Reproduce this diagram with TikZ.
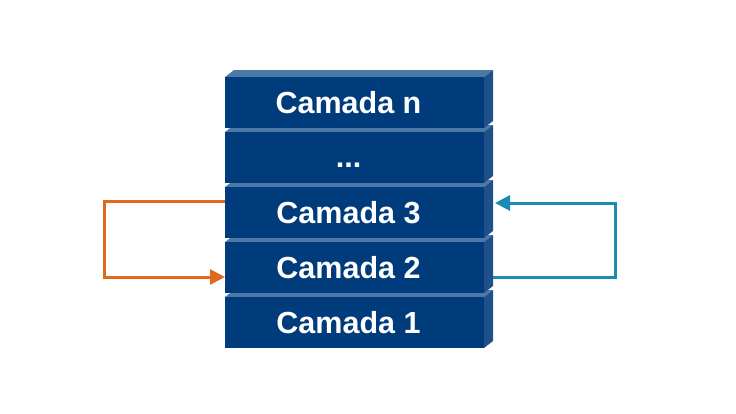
\documentclass[tikz,border=0pt]{standalone}
\usepackage{fontspec}
\setmainfont{Liberation Sans}
\usetikzlibrary{arrows.meta,positioning}
\definecolor{layerfront}{HTML}{003B7C}
\definecolor{layertop}{HTML}{4D79A8}
\definecolor{layerside}{HTML}{1F5089}
\definecolor{fwdorange}{HTML}{E06A1B}
\definecolor{backblue}{HTML}{1A8CB4}

\begin{document}
\begin{tikzpicture}[
      x=1pt, y=1pt,
      layer/.style={
        fill=layerfront, minimum width=259pt, minimum height=51pt,
        inner sep=0pt, outer sep=0pt
      },
      label/.style={
        text=white, inner sep=0pt, text height=21pt, text depth=0pt,
        font=\bfseries\fontsize{30.5}{34}\selectfont
      },
      topface/.style={fill=layertop},
      sideface/.style={fill=layerside},
      fwd/.style={-{Triangle[length=15pt,width=15pt]}, line width=3pt, draw=fwdorange},
      back/.style={-{Triangle[length=15pt,width=15pt]}, line width=3pt, draw=backblue},
      node distance=4pt
    ]
    \useasboundingbox (0,0) rectangle (736,-413);

    % front faces of the stack, top to bottom
    \node[layer] (camn) at (354.5,-102.5) {};
    \node[layer, below=of camn] (dots) {};
    \node[layer, below=of dots] (cam3) {};
    \node[layer, below=of cam3] (cam2) {};
    \node[layer, below=of cam2] (cam1) {};

    % depth faces, bottom first so the upper layer covers them
    \foreach \blk in {cam1,cam2,cam3,dots,camn} {
      \fill[topface] (\blk.north west) -- ++(9,7) -- ([shift={(9,7)}]\blk.north east) -- (\blk.north east) -- cycle;
      \fill[sideface] (\blk.north east) -- ++(9,7) -- ([shift={(9,7)}]\blk.south east) -- (\blk.south east) -- cycle;
      \fill[layerfront] (\blk.south west) rectangle (\blk.north east);
    }

    % layer names
    \node[label] (tcamn) at ([xshift=-6pt]camn) {Camada n};
    \node[label, text height=20pt] (tdots) at ([xshift=-6pt]dots) {...};
    \node[label] (tcam3) at ([xshift=-6pt]cam3) {Camada 3};
    \node[label] (tcam2) at ([xshift=-6pt]cam2) {Camada 2};
    \node[label] (tcam1) at ([xshift=-6pt]cam1) {Camada 1};

    \draw[fwd] ([yshift=11.5pt]cam3.west) -- ++(-121,0) |- ([yshift=-9.5pt]cam2.west);
    \draw[back] ([xshift=9pt,yshift=-10pt]cam2.east) -- ++(122,0) |- ([xshift=11pt,yshift=9.5pt]cam3.east);
  \end{tikzpicture}
\end{document}
